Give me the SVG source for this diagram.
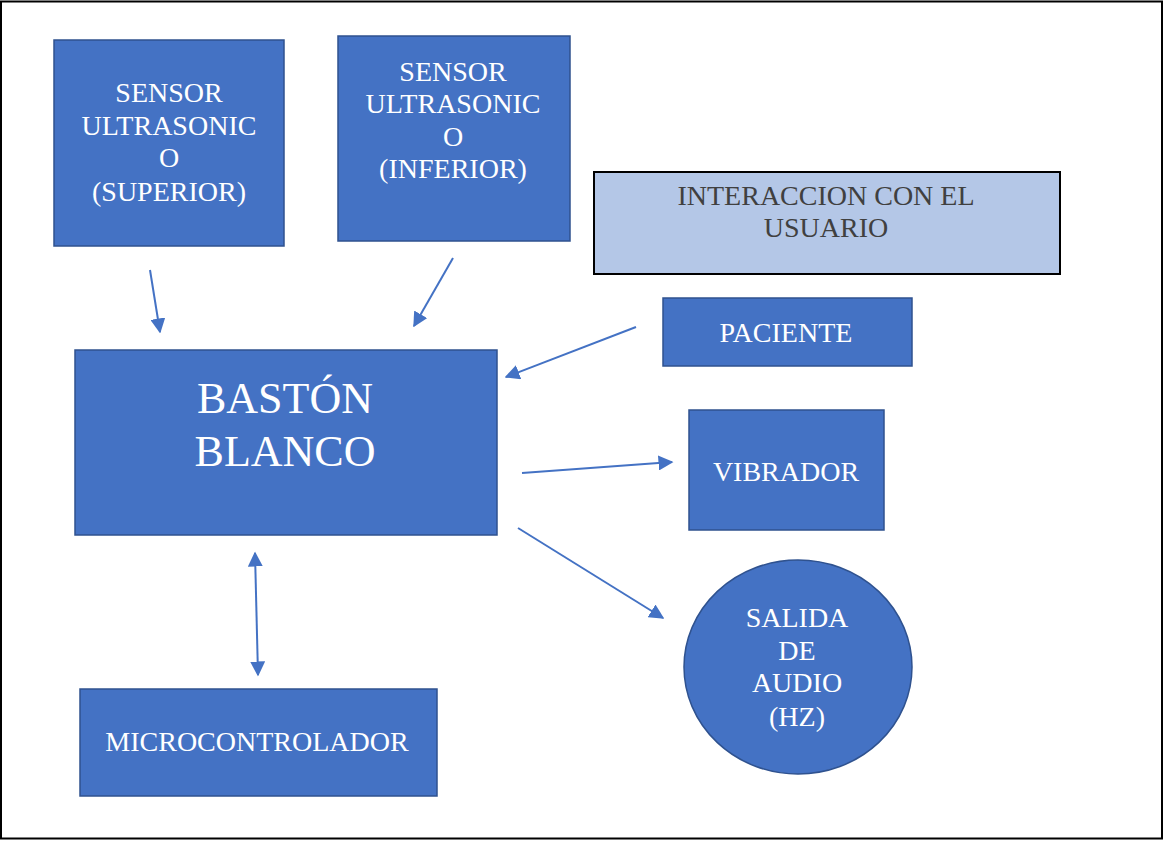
<svg xmlns="http://www.w3.org/2000/svg" width="1164" height="841" viewBox="0 0 1164 841">
<style>
.box{fill:#4472C4;stroke:#2F528F;stroke-width:1.5}
.t{font-family:"Liberation Serif","Times New Roman",serif;font-size:28px;fill:#ffffff;text-anchor:middle}
.big{font-size:44px}
.dark{fill:#404040}
.c{stroke:#4472C4;stroke-width:2;fill:none}
</style>
<defs>
<marker id="ah" viewBox="0 0 10 10" refX="9" refY="5" markerWidth="7.5" markerHeight="7.5" orient="auto" markerUnits="strokeWidth">
<path d="M0,0 L10,5 L0,10 z" fill="#4472C4"/>
</marker>
<marker id="as" viewBox="0 0 10 10" refX="1" refY="5" markerWidth="7.5" markerHeight="7.5" orient="auto" markerUnits="strokeWidth">
<path d="M10,0 L0,5 L10,10 z" fill="#4472C4"/>
</marker>
</defs>
<rect x="1" y="1.5" width="1161" height="837" fill="#ffffff" stroke="#000000" stroke-width="2"/>
<g id="sensor-superior">
<rect class="box" x="54" y="40" width="230" height="206"/>
<text class="t" x="169" y="102">SENSOR</text>
<text class="t" x="169" y="135">ULTRASONIC</text>
<text class="t" x="169" y="167">O</text>
<text class="t" x="169" y="201">(SUPERIOR)</text>
</g>
<g id="sensor-inferior">
<rect class="box" x="338" y="36" width="232" height="205"/>
<text class="t" x="453" y="81">SENSOR</text>
<text class="t" x="453" y="113">ULTRASONIC</text>
<text class="t" x="453" y="146">O</text>
<text class="t" x="453" y="178">(INFERIOR)</text>
</g>
<g id="interaccion">
<rect x="594" y="172" width="466" height="102" fill="#B4C7E7" stroke="#000000" stroke-width="2"/>
<text class="t dark" x="826" y="205">INTERACCION CON EL</text>
<text class="t dark" x="826" y="237">USUARIO</text>
</g>
<g id="paciente">
<rect class="box" x="663" y="298" width="249" height="68"/>
<text class="t" x="786" y="342">PACIENTE</text>
</g>
<g id="baston">
<rect class="box" x="75" y="350" width="422" height="185"/>
<text class="t big" x="285" y="413">BASTÓN</text>
<text class="t big" x="285" y="466">BLANCO</text>
</g>
<g id="vibrador">
<rect class="box" x="689" y="410" width="195" height="120"/>
<text class="t" x="786" y="481">VIBRADOR</text>
</g>
<g id="salida-audio">
<ellipse class="box" cx="798" cy="667" rx="114" ry="107"/>
<text class="t" x="797" y="627">SALIDA</text>
<text class="t" x="797" y="660">DE</text>
<text class="t" x="797" y="692">AUDIO</text>
<text class="t" x="797" y="726">(HZ)</text>
</g>
<g id="microcontrolador">
<rect class="box" x="80" y="689" width="357" height="107"/>
<text class="t" x="257" y="751">MICROCONTROLADOR</text>
</g>
<g id="connectors">
<line class="c" x1="150" y1="270" x2="160" y2="332" marker-end="url(#ah)"/>
<line class="c" x1="453" y1="258" x2="414" y2="326" marker-end="url(#ah)"/>
<line class="c" x1="636" y1="327" x2="506" y2="377" marker-end="url(#ah)"/>
<line class="c" x1="522" y1="473" x2="672" y2="462" marker-end="url(#ah)"/>
<line class="c" x1="518" y1="528" x2="663" y2="618" marker-end="url(#ah)"/>
<line class="c" x1="255" y1="553" x2="258" y2="675" marker-start="url(#as)" marker-end="url(#ah)"/>
</g>
</svg>
